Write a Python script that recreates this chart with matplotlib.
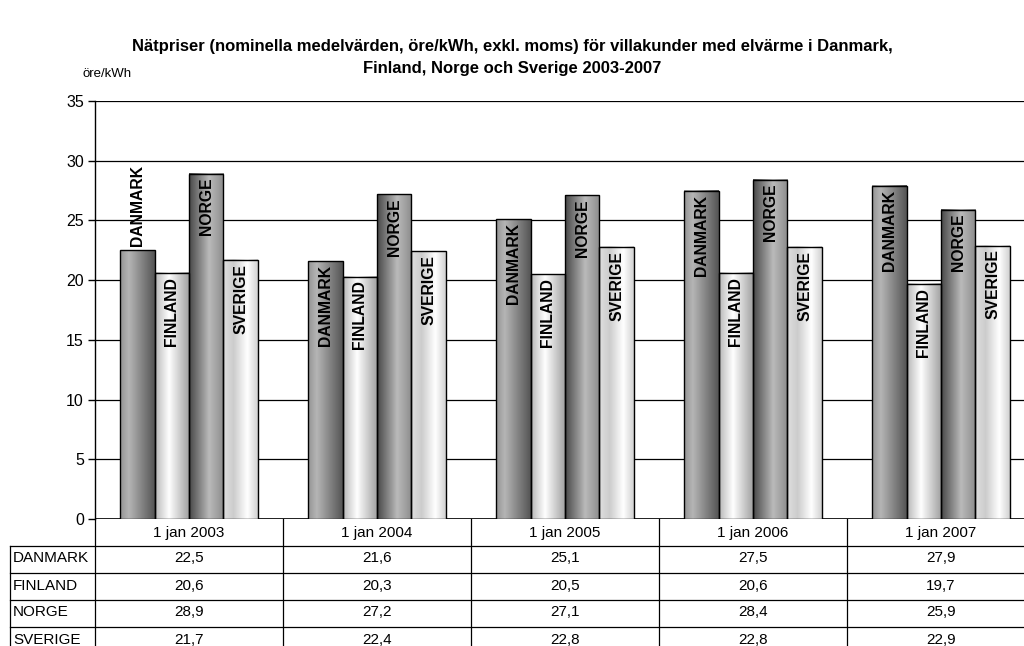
import numpy as np
import matplotlib
matplotlib.use('Agg')
import matplotlib.pyplot as plt
from matplotlib.colors import LinearSegmentedColormap
from matplotlib.patches import Rectangle

plt.rcParams['font.family'] = ['Liberation Sans', 'DejaVu Sans']

# Nätpriser, öre/kWh
years = ['1 jan 2003', '1 jan 2004', '1 jan 2005', '1 jan 2006', '1 jan 2007']
countries = ['DANMARK', 'FINLAND', 'NORGE', 'SVERIGE']
danmark = [22.5, 21.6, 25.1, 27.5, 27.9]
finland = [20.6, 20.3, 20.5, 20.6, 19.7]
norge = [28.9, 27.2, 27.1, 28.4, 25.9]
sverige = [21.7, 22.4, 22.8, 22.8, 22.9]
series = [danmark, finland, norge, sverige]

# horizontal gray gradients for each country (position, gray level)
gradients = [
    [(0.0, 0.58), (0.25, 0.71), (1.0, 0.33)],
    [(0.0, 0.72), (0.4, 1.0), (1.0, 0.62)],
    [(0.0, 0.28), (0.58, 0.73), (1.0, 0.55)],
    [(0.0, 0.88), (0.3, 0.80), (0.7, 1.0), (1.0, 0.82)],
]

W, H = 1024, 646
fig = plt.figure(figsize=(W / 100, H / 100), dpi=100)

def fx(px):
    return px / W

def fy(py):
    return 1 - py / H

ax_left, ax_right, ax_top, ax_bottom = 95, 1035, 101, 519
ax = fig.add_axes([fx(ax_left), fy(ax_bottom), fx(ax_right - ax_left), (ax_bottom - ax_top) / H])

n = len(years)
ax.set_yticks(np.arange(0, 36, 5))
ax.set_xticks([])
for s in ['top', 'right', 'bottom']:
    ax.spines[s].set_visible(False)
ax.spines['left'].set_linewidth(1.0)
ax.tick_params(axis='y', direction='out', length=5, width=1, labelsize=11.5, pad=3)
ax.yaxis.grid(True, color='black', linewidth=0.9)
ax.set_axisbelow(True)
ax.axhline(0, color='black', linewidth=1.2, zorder=1)

bw = 0.1835
offsets = (np.arange(4) - 1.5) * bw
px_per_unit = (ax_bottom - ax_top) / 35.0
pad = 4 / px_per_unit

# labels drawn above the bar instead of inside
outside = {(0, 0)}

for k, (vals, stops) in enumerate(zip(series, gradients)):
    cmap = LinearSegmentedColormap.from_list(
        'g%d' % k, [(p, (g, g, g)) for p, g in stops])
    grad = np.linspace(0, 1, 128).reshape(1, -1)
    for i, v in enumerate(vals):
        x0 = i + offsets[k] - bw / 2
        ax.imshow(grad, cmap=cmap, extent=[x0, x0 + bw, 0, v],
                  aspect='auto', zorder=2, interpolation='bilinear')
        ax.add_patch(Rectangle((x0, 0), bw, v, facecolor='none',
                               edgecolor='black', linewidth=1.0, zorder=3))
        if (k, i) in outside:
            ax.text(i + offsets[k], v + pad, countries[k], rotation=90,
                    ha='center', va='bottom', fontsize=11.3, fontweight='bold', zorder=4)
        else:
            ax.text(i + offsets[k], v - pad, countries[k], rotation=90,
                    ha='center', va='top', fontsize=11.3, fontweight='bold', zorder=4)

ax.set_xlim(-0.5, n - 0.5)
ax.set_ylim(0, 35)

# data table under the chart
cell_w = (ax_right - ax_left) / n
row_top = [519, 546, 573, 600, 627, 654]
line_kw = dict(color='black', linewidth=0.9, transform=fig.transFigure)
for y in row_top[1:-1]:
    fig.add_artist(plt.Line2D([fx(10), fx(ax_right)], [fy(y), fy(y)], **line_kw))
fig.add_artist(plt.Line2D([fx(10), fx(10)], [fy(546), fy(654)], **line_kw))
for j in range(n + 1):
    x = ax_left + j * cell_w
    fig.add_artist(plt.Line2D([fx(x), fx(x)], [fy(519), fy(654)], **line_kw))

for j, lab in enumerate(years):
    cx = ax_left + (j + 0.5) * cell_w
    fig.text(fx(cx), fy((row_top[0] + row_top[1]) / 2), lab,
             ha='center', va='center', fontsize=11)
    for r, vals in enumerate(series):
        cy = (row_top[r + 1] + row_top[r + 2]) / 2 - 1
        fig.text(fx(cx), fy(cy), ('%.1f' % vals[j]).replace('.', ','),
                 ha='center', va='center', fontsize=11)

for r, name in enumerate(countries):
    cy = (row_top[r + 1] + row_top[r + 2]) / 2 - 1
    fig.text(fx(13), fy(cy), name, ha='left', va='center', fontsize=11)

fig.text(0.5, fy(47), 'Nätpriser (nominella medelvärden, öre/kWh, exkl. moms) för villakunder med elvärme i Danmark,',
         ha='center', va='center', fontsize=12, fontweight='bold')
fig.text(0.5, fy(68), 'Finland, Norge och Sverige 2003-2007',
         ha='center', va='center', fontsize=12, fontweight='bold')
fig.text(fx(107), fy(74), 'öre/kWh', ha='center', va='center', fontsize=9.5)

fig.savefig('out.png', dpi=100)
